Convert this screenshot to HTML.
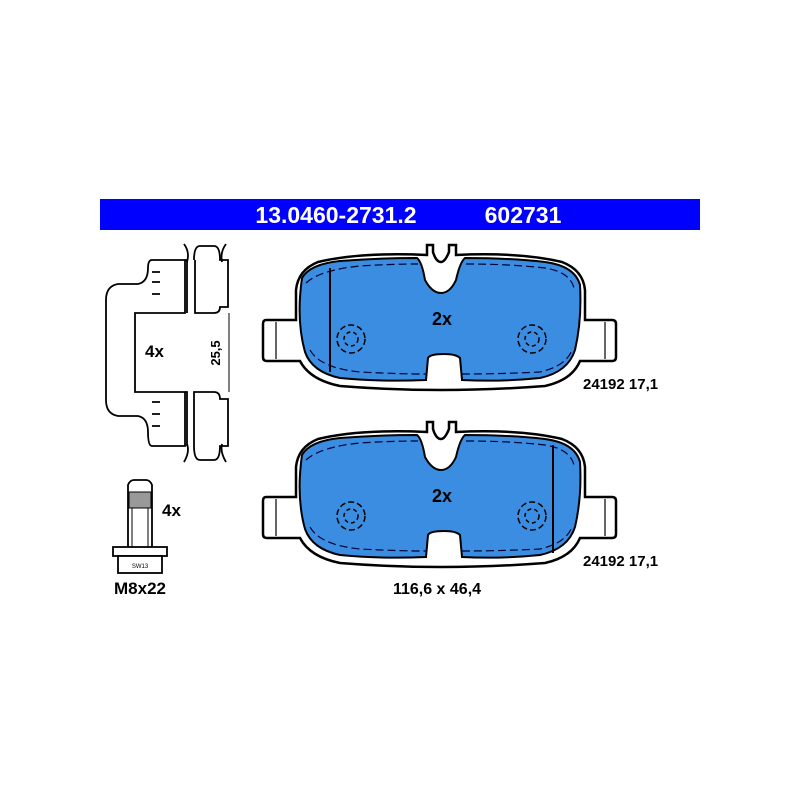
<!DOCTYPE html>
<html><head><style>html,body{margin:0;padding:0;background:#fff}svg{display:block}</style></head><body>
<svg width="800" height="800" viewBox="0 0 800 800" xmlns="http://www.w3.org/2000/svg" font-family="Liberation Sans, sans-serif">
<rect width="800" height="800" fill="#fff"/>
<rect x="100" y="199" width="600" height="31" fill="#0000ff"/>
<text x="336" y="223" fill="#fff" font-size="23" font-weight="bold" text-anchor="middle">13.0460-2731.2</text>
<text x="523" y="223" fill="#fff" font-size="23" font-weight="bold" text-anchor="middle">602731</text>
<defs>
<g id="pad">
<path d="M427,245 L427,255 Q360,252 318,262 Q298,270 296,290 L296,320 L266,320 Q263,320 263,324 L263,357 Q263,361 267,361 L300,361 Q310,380 340,386 Q440,394 545,386 Q572,380 580,361 L612,361 Q616,361 616,357 L616,324 Q616,320 612,320 L585,320 L585,290 Q583,270 562,262 Q520,252 456,255 L456,245 L449,245 L449,252 Q445,262 441,262 Q436,262 433,252 L433,245 Z" fill="#fff" stroke="#000" stroke-width="2.5"/>
<path d="M302,278 Q310,264 340,261 Q380,258 417,258 Q422,262 425,280 Q432,293 441,293 Q450,293 456,280 Q460,262 465,258 Q510,258 545,262 Q575,266 580,285 Q582,320 575,350 Q568,372 540,378 Q500,382 462,380 L460,358 Q456,354 444,354 Q430,354 428,358 L426,380 Q380,382 340,378 Q312,372 305,352 Q296,320 302,278 Z" fill="#3a8de0" stroke="#000" stroke-width="2"/>
<path d="M306,283 Q320,270 360,266 Q390,264 418,264 M466,264 Q510,264 545,268 Q570,272 574,288 M310,350 Q320,368 360,372 Q400,374 426,374 M462,374 Q500,374 540,372 Q566,366 572,350" fill="none" stroke="#003" stroke-width="1.2" stroke-dasharray="8 4"/>
<circle cx="351" cy="339" r="14" fill="none" stroke="#000" stroke-width="1.5" stroke-dasharray="6 3"/>
<circle cx="351" cy="339" r="7" fill="none" stroke="#000" stroke-width="1.5" stroke-dasharray="4 3"/>
<circle cx="532" cy="339" r="14" fill="none" stroke="#000" stroke-width="1.5" stroke-dasharray="6 3"/>
<circle cx="532" cy="339" r="7" fill="none" stroke="#000" stroke-width="1.5" stroke-dasharray="4 3"/>
<line x1="276" y1="322" x2="276" y2="359" stroke="#000" stroke-width="1.2"/>
<line x1="605" y1="322" x2="605" y2="359" stroke="#000" stroke-width="1.2"/>
<text x="442" y="325" font-size="18" font-weight="bold" text-anchor="middle" fill="#000">2x</text>
</g>
</defs>
<use href="#pad"/>
<line x1="330" y1="268" x2="330" y2="372" stroke="#000" stroke-width="2"/>
<g transform="translate(0,177)"><use href="#pad"/></g>
<line x1="553" y1="445" x2="553" y2="553" stroke="#000" stroke-width="2"/>
<text x="583" y="389" font-size="15" font-weight="bold">24192 17,1</text>
<text x="583" y="566" font-size="15" font-weight="bold">24192 17,1</text>
<text x="437" y="594" font-size="16" font-weight="bold" text-anchor="middle">116,6 x 46,4</text>
<g fill="none" stroke="#000" stroke-width="1.8">
<path d="M185,313 L185,260 L152,260 Q148,260 148,268 Q148,282 138,284 L118,284 Q106,286 106,300 L106,400 Q106,414 118,416 L138,416 Q148,418 148,432 Q148,446 152,446 L185,446 L185,392 L135,392 L135,313 Z"/>
<path d="M185,260 L187,260 L187,313 M185,392 L187,392 L187,446"/>
<path d="M194,260 Q194,246 200,246 L214,246 Q220,246 220,260 L228,260 L228,307 L220,307 Q220,313 214,313 L195,313 L195,260"/>
<path d="M194,392 L214,392 Q220,392 220,399 L228,399 L228,446 L220,446 Q220,460 214,460 L200,460 Q194,460 194,446 Z"/>
<path d="M184,244 Q190,252 187,262 M226,244 Q220,252 222,262 M184,462 Q190,452 187,444 M226,462 Q220,452 222,444"/>
<path d="M160,272 L152,272 M160,282 L152,282 M160,294 L152,294 M160,402 L152,402 M160,414 L152,414 M160,426 L152,426"/>
<line x1="229" y1="313" x2="229" y2="392" stroke-width="1"/>
</g>
<text x="145" y="357" font-size="17" font-weight="bold">4x</text>
<text x="220" y="353" font-size="13" font-weight="bold" transform="rotate(-90 220 353)" text-anchor="middle">25,5</text>
<g fill="none" stroke="#000" stroke-width="1.8">
<path d="M128,547 L128,485 Q130,480 134,480 L146,480 Q150,480 152,485 L152,547"/>
<rect x="129" y="492" width="22" height="16" fill="#999" stroke="#000" stroke-width="1"/>
<line x1="132" y1="508" x2="132" y2="547" stroke-width="1"/><line x1="148" y1="508" x2="148" y2="547" stroke-width="1"/>
<rect x="113" y="547" width="54" height="9" fill="#fff"/>
<rect x="118" y="556" width="44" height="17" fill="#fff"/>
</g>
<text x="140" y="568" font-size="6" text-anchor="middle">SW13</text>
<text x="162" y="516" font-size="17" font-weight="bold">4x</text>
<text x="140" y="594" font-size="17" font-weight="bold" text-anchor="middle">M8x22</text>
</svg>
</body></html>
